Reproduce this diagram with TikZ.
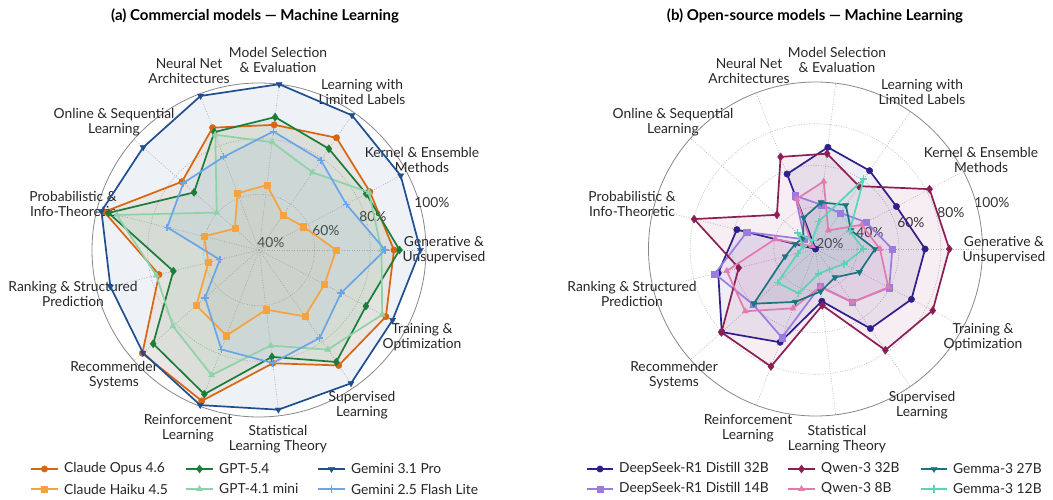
\documentclass[tikz,border=0pt]{standalone}
\usepackage{fontspec}
\setmainfont{Lato}
\usetikzlibrary{plotmarks}
\definecolor{cOpus}{HTML}{D8650F}
\definecolor{cHaiku}{HTML}{F4A340}
\definecolor{cGptA}{HTML}{1B7D3A}
\definecolor{cGptB}{HTML}{8ED2A8}
\definecolor{cGemA}{HTML}{1F4F91}
\definecolor{cGemB}{HTML}{6AA5E8}
\definecolor{cDsA}{HTML}{2E1F8A}
\definecolor{cDsB}{HTML}{9B7BE0}
\definecolor{cQwA}{HTML}{8B1E55}
\definecolor{cQwB}{HTML}{E27AB0}
\definecolor{cGmA}{HTML}{1B7580}
\definecolor{cGmB}{HTML}{5CD3B5}
\definecolor{gridc}{HTML}{BBBBBB}
\definecolor{outc}{HTML}{888888}
\tikzset{
  lbl/.style={font=\fontsize{13.8}{15.2}\selectfont, align=center, text=black!85, inner sep=0},
  pct/.style={font=\fontsize{13.8}{15}\selectfont, text=black!80, inner sep=0},
  ttl/.style={font=\bfseries\fontsize{15}{17}\selectfont, inner sep=0},
  lgt/.style={font=\fontsize{13.8}{15}\selectfont, text=black!85, inner sep=0},
  spoke/.style={gridc, dash pattern=on 1pt off 1.5pt, line width=0.6pt},
  ring/.style={gridc, dash pattern=on 1pt off 1.5pt, line width=0.6pt},
  outer/.style={outc, line width=0.8pt},
  mC/.style={mark=*, mark size=3.2pt},
  mS/.style={mark=square*, mark size=3.1pt},
  mD/.style={mark=diamond*, mark size=4pt},
  mT/.style={mark=triangle*, mark size=3.5pt},
  mV/.style={mark=triangle*, mark size=3.5pt, mark options={rotate=180}},
  mP/.style={mark=+, mark size=3.6pt, mark options={line width=1.4pt}},
}
% #1 lower limit, #2 scale, #3 value-list macro
\newcommand\radarpts[3]{%
  \foreach \v [count=\i from 0] in #3 {\coordinate (p\i) at ({\i*360/13}:{(\v-#1)*#2});}}
% #1 colour
\newcommand\radarfill[1]{%
  \fill[#1, fill opacity=0.075] (p0)--(p1)--(p2)--(p3)--(p4)--(p5)--(p6)--(p7)--(p8)--(p9)--(p10)--(p11)--(p12)--cycle;}
% #1 colour, #2 marker style
\newcommand\radarline[2]{%
  \draw[#1, line width=1.7pt, line join=round] (p0)--(p1)--(p2)--(p3)--(p4)--(p5)--(p6)--(p7)--(p8)--(p9)--(p10)--(p11)--(p12)--cycle;
  \draw[#1] plot[only marks, #2] coordinates {(p0)(p1)(p2)(p3)(p4)(p5)(p6)(p7)(p8)(p9)(p10)(p11)(p12)};}
% #1 colour, #2 marker, #3 x1, #4 x2, #5 y, #6 text
\newcommand\legitem[6]{%
  \draw[#1, line width=1.7pt] (#3,-#5) -- (#4,-#5);
  \draw[#1] plot[only marks, #2] coordinates {({(#3+#4)/2},-#5)};
  \node[lgt, anchor=west] at ({#4+6},-#5) {#6};
}
% value lists
\def\vOpus{88.5,85,89,85.3,87,77,97.3,77,96,98,81,90.4,91.5}
\def\vHaiku{67.7,58,55.2,63.5,61.8,51.6,60.4,58.7,70.1,72.9,61.6,69,66.6}
\def\vGptA{90.5,83.5,84.2,88.1,85.3,71.2,95.7,71.7,90.8,95.4,78.7,88.9,83.4}
\def\vGptB{84,84.6,73.9,79,84.3,60.3,92.6,78,81.3,88.1,74.6,83.5,90}
\def\vGemA{98,97.5,98.8,100,99.2,95.6,98.3,95,95.7,99.6,97.8,98.2,94.2}
\def\vGemB{85.3,75.4,79.2,82.9,75.8,76.3,74,54.5,65.9,78.2,80.9,78.4,73.3}
\def\vDsA{72.5,63.8,65.6,69.1,58.4,20,58.8,68,80,67.8,45.2,66.3,71.9}
\def\vDsB{56.8,47.5,41,41.4,47.3,27,53.9,69.7,60,65.4,38,50.9,59.9}
\def\vQwA{84.1,81.7,56.6,66,67.2,44.7,79.9,57.9,80.2,80.2,47.2,78.9,83.4}
\def\vQwB{50.9,45,30.8,52.6,45.6,22,39.9,63.8,65,50.4,38.3,51.1,59.4}
\def\vGmA{48.5,39.2,45.6,42.5,36,28,30,35,59.5,47.1,40.5,36.5,43.8}
\def\vGmB{43,38.5,60.7,33.4,24.4,31.7,26,28.7,44.4,42.7,32,31.8,35.5}
\begin{document}
\begin{tikzpicture}[x=1pt,y=1pt]
\useasboundingbox (0,0) rectangle (1053,-500);
\fill[white] (0,0) rectangle (1053,-500);

% ---------------- titles
\node[ttl] (tA) at (255,-16) {(a) Commercial models — Machine Learning};
\node[ttl] (tB) at (815,-16) {(b) Open-source models — Machine Learning};

% ---------------- left grid
\begin{scope}[shift={(259,-250)}]
  \foreach \a in {0,...,12} \draw[spoke] (0,0) -- ({\a*360/13}:167);
  \draw[ring] (0,0) circle (55.67);
  \draw[ring] (0,0) circle (111.33);
  \draw[outer] (0,0) circle (167);
\end{scope}
% ---------------- right grid
\begin{scope}[shift={(815.5,-249)}]
  \foreach \a in {0,...,12} \draw[spoke] (0,0) -- ({\a*360/13}:167);
  \draw[ring] (0,0) circle (41.75);
  \draw[ring] (0,0) circle (83.5);
  \draw[ring] (0,0) circle (125.25);
  \draw[outer] (0,0) circle (167);
\end{scope}

% ---------------- left labels
\node[lbl] (aL0) at (444,-250) {Generative \&\\Unsupervised};
\node[lbl] (aL1) at (422,-160) {Kernel \& Ensemble\\Methods};
\node[lbl] (aL2) at (362,-92) {Learning with\\Limited Labels};
\node[lbl] (aL3) at (278,-60) {Model Selection\\\& Evaluation};
\node[lbl] (aL4) at (189,-71) {Neural Net\\Architectures};
\node[lbl] (aL5) at (114,-122) {Online \& Sequential\\Learning};
\node[lbl] (aL6) at (73,-204) {Probabilistic \&\\Info-Theoretic};
\node[lbl] (aL7) at (73,-294) {Ranking \& Structured\\Prediction};
\node[lbl] (aL8) at (114,-375) {Recommender\\Systems};
\node[lbl] (aL9) at (188,-428) {Reinforcement\\Learning};
\node[lbl] (aL10) at (278,-439) {Statistical\\Learning Theory};
\node[lbl] (aL11) at (362,-405) {Supervised\\Learning};
\node[lbl] (aL12) at (422,-337) {Training \&\\Optimization};
\node[pct] (aP1) at (271,-243) {40\%};
\node[pct] (aP2) at (326,-231) {60\%};
\node[pct] (aP3) at (373,-217) {80\%};
\node[pct] (aP4) at (432,-203) {100\%};

% ---------------- right labels
\node[lbl] (bL0) at (1004,-250) {Generative \&\\Unsupervised};
\node[lbl] (bL1) at (981,-160) {Kernel \& Ensemble\\Methods};
\node[lbl] (bL2) at (922,-92) {Learning with\\Limited Labels};
\node[lbl] (bL3) at (837,-60) {Model Selection\\\& Evaluation};
\node[lbl] (bL4) at (749,-71) {Neural Net\\Architectures};
\node[lbl] (bL5) at (673,-122) {Online \& Sequential\\Learning};
\node[lbl] (bL6) at (632,-204) {Probabilistic \&\\Info-Theoretic};
\node[lbl] (bL7) at (632,-294) {Ranking \& Structured\\Prediction};
\node[lbl] (bL8) at (674,-375) {Recommender\\Systems};
\node[lbl] (bL9) at (748,-428) {Reinforcement\\Learning};
\node[lbl] (bL10) at (837,-439) {Statistical\\Learning Theory};
\node[lbl] (bL11) at (922,-405) {Supervised\\Learning};
\node[lbl] (bL12) at (983,-337) {Training \&\\Optimization};
\node[pct] (bP1) at (830,-244) {20\%};
\node[pct] (bP2) at (870,-233) {40\%};
\node[pct] (bP3) at (911,-223) {60\%};
\node[pct] (bP4) at (951,-213) {80\%};
\node[pct] (bP5) at (992,-203) {100\%};

% ---------------- left data
\begin{scope}[shift={(259,-250)}]
  \radarpts{40}{2.7833}{\vOpus}\radarfill{cOpus}
  \radarpts{40}{2.7833}{\vHaiku}\radarfill{cHaiku}
  \radarpts{40}{2.7833}{\vGptA}\radarfill{cGptA}
  \radarpts{40}{2.7833}{\vGptB}\radarfill{cGptB}
  \radarpts{40}{2.7833}{\vGemA}\radarfill{cGemA}
  \radarpts{40}{2.7833}{\vGemB}\radarfill{cGemB}
  \radarpts{40}{2.7833}{\vOpus}\radarline{cOpus}{mC}
  \radarpts{40}{2.7833}{\vHaiku}\radarline{cHaiku}{mS}
  \radarpts{40}{2.7833}{\vGptA}\radarline{cGptA}{mD}
  \radarpts{40}{2.7833}{\vGptB}\radarline{cGptB}{mT}
  \radarpts{40}{2.7833}{\vGemA}\radarline{cGemA}{mV}
  \radarpts{40}{2.7833}{\vGemB}\radarline{cGemB}{mP}
\end{scope}

% ---------------- right data
\begin{scope}[shift={(815.5,-249)}]
  \radarpts{20}{2.0875}{\vDsA}\radarfill{cDsA}
  \radarpts{20}{2.0875}{\vDsB}\radarfill{cDsB}
  \radarpts{20}{2.0875}{\vQwA}\radarfill{cQwA}
  \radarpts{20}{2.0875}{\vQwB}\radarfill{cQwB}
  \radarpts{20}{2.0875}{\vGmA}\radarfill{cGmA}
  \radarpts{20}{2.0875}{\vGmB}\radarfill{cGmB}
  \radarpts{20}{2.0875}{\vDsA}\radarline{cDsA}{mC}
  \radarpts{20}{2.0875}{\vDsB}\radarline{cDsB}{mS}
  \radarpts{20}{2.0875}{\vQwA}\radarline{cQwA}{mD}
  \radarpts{20}{2.0875}{\vQwB}\radarline{cQwB}{mT}
  \radarpts{20}{2.0875}{\vGmA}\radarline{cGmA}{mV}
  \radarpts{20}{2.0875}{\vGmB}\radarline{cGmB}{mP}
\end{scope}

% ---------------- legends
\legitem{cOpus}{mC}{31}{58}{469}{Claude Opus 4.6}
\legitem{cHaiku}{mS}{31}{58}{489}{Claude Haiku 4.5}
\legitem{cGptA}{mD}{186}{213}{469}{GPT-5.4}
\legitem{cGptB}{mT}{186}{213}{489}{GPT-4.1 mini}
\legitem{cGemA}{mV}{318}{345}{469}{Gemini 3.1 Pro}
\legitem{cGemB}{mP}{318}{345}{489}{Gemini 2.5 Flash Lite}

\legitem{cDsA}{mC}{587}{613}{469}{DeepSeek-R1 Distill 32B}
\legitem{cDsB}{mS}{587}{613}{489}{DeepSeek-R1 Distill 14B}
\legitem{cQwA}{mD}{788}{815}{469}{Qwen-3 32B}
\legitem{cQwB}{mT}{788}{815}{489}{Qwen-3 8B}
\legitem{cGmA}{mV}{921}{947}{469}{Gemma-3 27B}
\legitem{cGmB}{mP}{921}{947}{489}{Gemma-3 12B}
\end{tikzpicture}
\end{document}
